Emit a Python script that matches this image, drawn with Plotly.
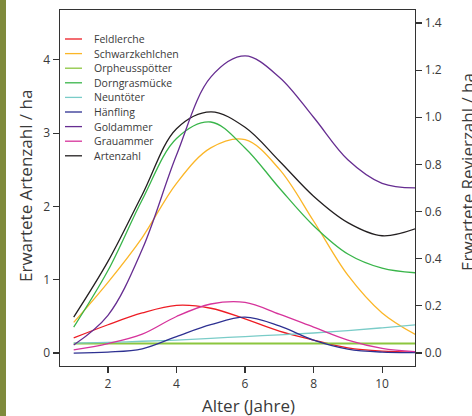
import plotly.graph_objects as go

# ---------------- data ----------------
age = [1, 2, 3, 4, 5, 6, 7, 8, 9, 10, 11]

species = ["Feldlerche", "Schwarzkehlchen", "Orpheusspötter", "Dorngrasmücke",
           "Neuntöter", "Hänfling", "Goldammer", "Grauammer"]
total_name = "Artenzahl"

feldlerche      = [0.064, 0.12, 0.17, 0.202, 0.19, 0.145, 0.093, 0.055, 0.022, 0.008, 0.004]
schwarzkehlchen = [0.13, 0.30, 0.49, 0.72, 0.87, 0.905, 0.78, 0.56, 0.33, 0.17, 0.076]
orpheusspoetter = [0.04, 0.04, 0.04, 0.04, 0.04, 0.04, 0.04, 0.04, 0.04, 0.04, 0.04]
dorngrasmuecke  = [0.11, 0.35, 0.65, 0.91, 0.98, 0.87, 0.70, 0.54, 0.42, 0.36, 0.34]
neuntoeter      = [0.042, 0.045, 0.05, 0.055, 0.062, 0.07, 0.077, 0.085, 0.095, 0.107, 0.12]
haenfling       = [0.0, 0.004, 0.018, 0.07, 0.12, 0.152, 0.115, 0.055, 0.017, 0.004, 0.002]
goldammer       = [0.034, 0.16, 0.44, 0.84, 1.17, 1.26, 1.17, 1.00, 0.82, 0.72, 0.70]
grauammer       = [0.013, 0.04, 0.08, 0.155, 0.208, 0.215, 0.165, 0.11, 0.055, 0.02, 0.006]
artenzahl       = [0.49, 1.25, 2.16, 3.06, 3.29, 3.08, 2.62, 2.14, 1.78, 1.60, 1.70]

series_values = [feldlerche, schwarzkehlchen, orpheusspoetter, dorngrasmuecke,
                 neuntoeter, haenfling, goldammer, grauammer]

left_ticks = [0, 1, 2, 3, 4]
right_ticks = [0.0, 0.2, 0.4, 0.6, 0.8, 1.0, 1.2, 1.4]
x_ticks = [2, 4, 6, 8, 10]

# ---------------- style ----------------
colors = ["#ed1c24", "#fbb627", "#8cc63f", "#39b54a",
          "#7accc8", "#2e3192", "#662d91", "#d6339b"]
widths = [1.3, 1.3, 2.0, 1.3, 1.3, 1.3, 1.3, 1.3]
total_color = "#231f20"
FONT = "Open Sans"
TXT = "#3a3a3a"
AX = "#333333"

W, H = 472, 416
L, R, T, B = 60, 415, 10, 366

fig = go.Figure()
for name, vals, c, w in zip(species, series_values, colors, widths):
    fig.add_trace(go.Scatter(x=age, y=vals, mode="lines", name=name,
                             line=dict(color=c, width=w, shape="spline", smoothing=1.0),
                             yaxis="y2", showlegend=False))
fig.add_trace(go.Scatter(x=age, y=artenzahl, mode="lines", name=total_name,
                         line=dict(color=total_color, width=1.3, shape="spline", smoothing=1.0),
                         yaxis="y", showlegend=False))

def px2paper_x(px):
    return (px - L) / (R - L)

def px2paper_y(py):
    return (B - py) / (B - T)

shapes = []
annotations = []

# legend (custom, short line samples)
leg_names = species + [total_name]
leg_colors = colors + [total_color]
for i, (nm, c) in enumerate(zip(leg_names, leg_colors)):
    yy = px2paper_y(39 + i * 14.6)
    shapes.append(dict(type="line", xref="paper", yref="paper",
                       x0=px2paper_x(65), x1=px2paper_x(82), y0=yy, y1=yy,
                       line=dict(color=c, width=1.3)))
    annotations.append(dict(xref="paper", yref="paper", x=px2paper_x(92), y=yy,
                            text=nm, showarrow=False, xanchor="left", yanchor="middle",
                            font=dict(family=FONT, size=10.5, color=TXT)))

# photo strip at left edge
shapes.append(dict(type="rect", xref="paper", yref="paper", layer="below",
                   x0=px2paper_x(0), x1=px2paper_x(6), y0=px2paper_y(416), y1=px2paper_y(0),
                   fillcolor="#7f8a3c", line=dict(width=0)))

# axis titles
annotations.append(dict(xref="paper", yref="paper", x=px2paper_x(25), y=px2paper_y(186),
                        text="Erwartete Artenzahl / ha", textangle=-90, showarrow=False,
                        xanchor="center", yanchor="middle",
                        font=dict(family=FONT, size=17, color=TXT)))
annotations.append(dict(xref="paper", yref="paper", x=px2paper_x(467), y=px2paper_y(172),
                        text="Erwartete Revierzahl / ha", textangle=-90, showarrow=False,
                        xanchor="center", yanchor="middle",
                        font=dict(family=FONT, size=17, color=TXT)))
annotations.append(dict(xref="paper", yref="paper", x=px2paper_x(248), y=px2paper_y(405),
                        text="Alter (Jahre)", showarrow=False,
                        xanchor="center", yanchor="middle",
                        font=dict(family=FONT, size=17, color=TXT)))

axis_common = dict(showgrid=False, zeroline=False, showline=True, linecolor=AX,
                   linewidth=1.4, ticks="outside", ticklen=6, tickwidth=1.2,
                   tickcolor=AX, tickfont=dict(family=FONT, size=12, color=TXT))

fig.update_layout(
    width=W, height=H,
    margin=dict(l=L, r=W - R, t=T, b=H - B, autoexpand=False),
    paper_bgcolor="white", plot_bgcolor="white",
    xaxis=dict(range=[0.6, 10.96], tickvals=x_ticks, mirror=True, **axis_common),
    yaxis=dict(range=[-0.177, 4.68], tickvals=left_ticks, **axis_common),
    yaxis2=dict(range=[-0.055, 1.455], tickvals=right_ticks, tickformat=".1f",
                overlaying="y", side="right", **axis_common),
    shapes=shapes, annotations=annotations,
)

fig.write_html("out.html",
               config={"displayModeBar": False, "staticPlot": True},
               post_script="document.body.style.margin='0';document.body.style.padding='0';"
                           "document.documentElement.style.overflow='hidden';")
